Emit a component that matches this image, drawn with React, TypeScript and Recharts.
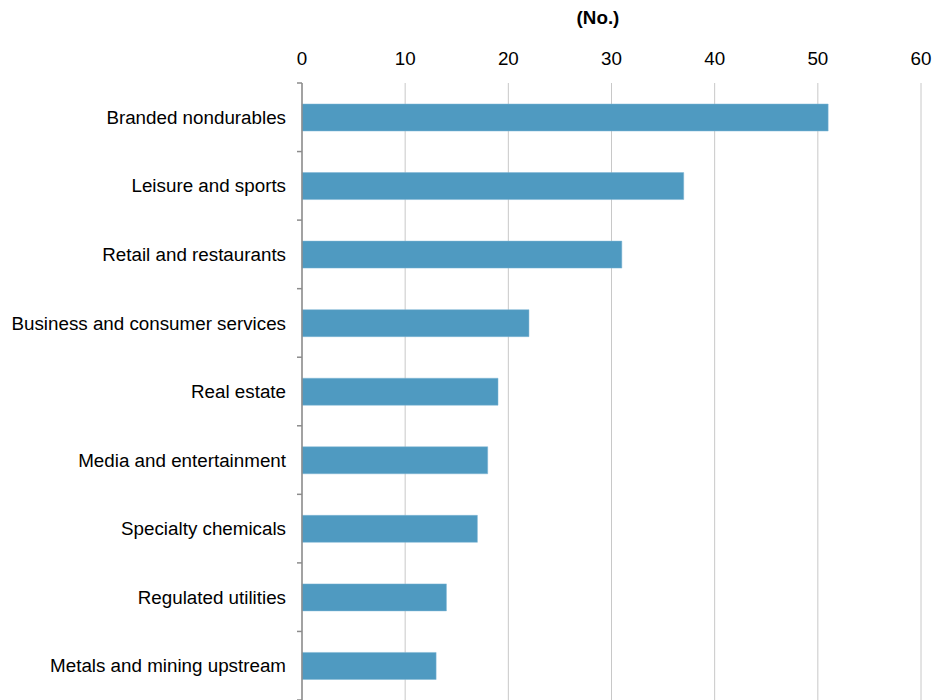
import { Bar, BarChart, CartesianGrid, XAxis, YAxis } from 'recharts'

const categories = [
  'Branded nondurables',
  'Leisure and sports',
  'Retail and restaurants',
  'Business and consumer services',
  'Real estate',
  'Media and entertainment',
  'Specialty chemicals',
  'Regulated utilities',
  'Metals and mining upstream',
]
const counts = [51, 37, 31, 22, 19, 18, 17, 14, 13]
const xTicks = [0, 10, 20, 30, 40, 50, 60]

const data = categories.map((name, i) => ({ name, value: counts[i] }))

const FONT = 'Arial, "Liberation Sans", sans-serif'
const FS = 18.8

// category tick: label at centre, tick marks at band edges (Excel style)
function CategoryTick(props: any) {
  const { x, y, payload } = props
  const half = payload.offset || 0
  const axisX = x + 16
  return (
    <g>
      <line x1={axisX - 5} x2={axisX} y1={y - half} y2={y - half} stroke="#8c8c8c" strokeWidth={1.5} />
      {payload.index === categories.length - 1 && (
        <line x1={axisX - 5} x2={axisX} y1={y + half} y2={y + half} stroke="#8c8c8c" strokeWidth={1.5} />
      )}
      <text x={x} y={y} dy="0.35em" textAnchor="end" fill="#000" fontSize={FS} fontFamily={FONT}>
        {payload.value}
      </text>
    </g>
  )
}

export default function App() {
  return (
    <div style={{ position: 'absolute', left: 0, top: 0, width: 933, height: 700, background: '#fff' }}>
      <BarChart
        width={933}
        height={700}
        data={data}
        layout="vertical"
        margin={{ top: 0, right: 12, left: 0, bottom: 0 }}
        barSize={27}
      >
        <CartesianGrid horizontal={false} stroke="#c8c8c8" />
        <XAxis
          type="number"
          orientation="top"
          domain={[0, 60]}
          ticks={xTicks}
          height={83}
          axisLine={false}
          tickLine={false}
          tickSize={0}
          tickMargin={18}
          tick={{ fill: '#000', fontSize: FS, fontFamily: FONT }}
          label={{
            content: () => (
              <text x={598} y={24} textAnchor="middle" fontSize={FS} fontWeight="bold" fontFamily={FONT} fill="#000">
                (No.)
              </text>
            ),
          }}
        />
        <YAxis
          type="category"
          dataKey="name"
          width={302}
          axisLine={{ stroke: '#8c8c8c', strokeWidth: 1.5 }}
          tickLine={false}
          tickSize={0}
          tickMargin={16}
          interval={0}
          tick={<CategoryTick />}
        />
        <Bar dataKey="value" fill="#4f9ac1" stroke="#7fb6d4" strokeWidth={0.5} isAnimationActive={false} />
      </BarChart>
    </div>
  )
}
